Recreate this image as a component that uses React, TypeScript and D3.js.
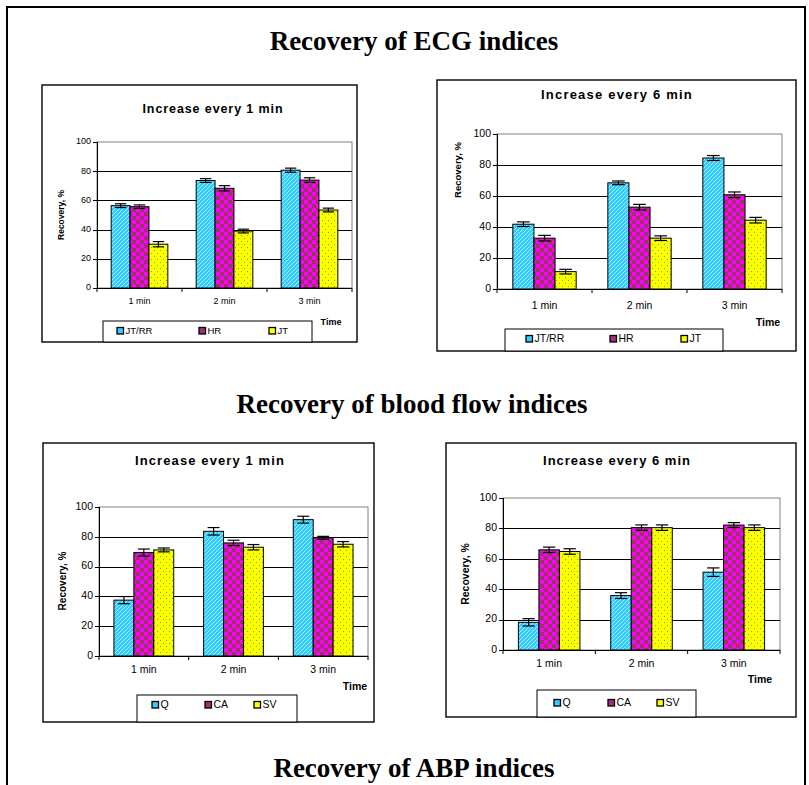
import React from 'react';
import * as d3 from 'd3';

const categories = ['1 min', '2 min', '3 min'];
const ecgSeriesNames = ['JT/RR', 'HR', 'JT'];
const flowSeriesNames = ['Q', 'CA', 'SV'];
const yTicks = [0, 20, 40, 60, 80, 100];

// ECG, increase every 1 min
const ecg1JTRR = [56.4, 73.6, 80.7];
const ecg1HR = [55.7, 68.3, 73.9];
const ecg1JT = [30.0, 39.0, 53.4];
const ecg1JTRRErr = [1.3, 1.3, 1.4];
const ecg1HRErr = [1.2, 1.8, 1.6];
const ecg1JTErr = [1.8, 1.3, 1.3];

// ECG, increase every 6 min
const ecg6JTRR = [41.8, 68.5, 84.5];
const ecg6HR = [32.8, 52.8, 60.8];
const ecg6JT = [11.2, 32.8, 44.4];
const ecg6JTRRErr = [1.5, 1.2, 1.6];
const ecg6HRErr = [1.8, 1.8, 1.8];
const ecg6JTErr = [1.5, 1.5, 1.8];

// Blood flow, increase every 1 min
const flow1Q = [37.5, 83.7, 91.5];
const flow1CA = [69.4, 75.9, 79.3];
const flow1SV = [71.2, 73.0, 75.0];
const flow1QErr = [2.4, 2.5, 2.3];
const flow1CAErr = [2.4, 1.8, 1.0];
const flow1SVErr = [1.3, 1.8, 1.8];

// Blood flow, increase every 6 min
const flow6Q = [18.2, 35.8, 51.2];
const flow6CA = [65.9, 80.5, 82.2];
const flow6SV = [64.8, 80.5, 80.5];
const flow6QErr = [2.4, 1.9, 2.8];
const flow6CAErr = [1.8, 1.8, 1.6];
const flow6SVErr = [1.8, 1.8, 1.8];

const SANS = '"Liberation Sans", Arial, Helvetica, sans-serif';
const SERIF = '"Liberation Serif", "Times New Roman", Times, serif';

const fills = ['url(#cyanHatch)', 'url(#magentaDots)', 'url(#yellowDots)'];
const legendFills = ['#33CCFF', '#A3307E', '#FFFF00'];

type Box = { x0: number; y0: number; x1: number; y1: number };
type Series = { name: string; values: number[]; errors: number[] };

interface ChartProps {
  frame: Box;
  plot: Box;
  title: string;
  titleX: number;
  titleY: number;
  titleSize: number;
  titleSpacing: number;
  tickSize: number;
  catY: number;
  ylabel: string;
  ylabelX: number;
  ylabelY: number;
  ylabelSize: number;
  timeX: number;
  timeY: number;
  series: Series[];
  legend: Box;
  legendMarkers: number[];
  legendTextY: number;
  legendSize: number;
}

function BarChart(p: ChartProps) {
  const x0 = d3
    .scaleBand<string>()
    .domain(categories)
    .range([p.plot.x0, p.plot.x1])
    .paddingInner(0)
    .paddingOuter(0);
  const bw = x0.bandwidth();
  const barW = bw / 4.5;
  const x1 = d3
    .scaleBand<string>()
    .domain(p.series.map((s) => s.name))
    .range([(bw * 0.75) / 4.5, (bw * 0.75) / 4.5 + barW * 3])
    .padding(0);
  const y = d3.scaleLinear().domain([0, 100]).range([p.plot.y1, p.plot.y0]);

  return (
    <g>
      <rect
        x={p.frame.x0}
        y={p.frame.y0}
        width={p.frame.x1 - p.frame.x0}
        height={p.frame.y1 - p.frame.y0}
        fill="#fff"
        stroke="#000"
        strokeWidth={1.4}
      />
      <text
        x={p.titleX}
        y={p.titleY}
        textAnchor="middle"
        fontFamily={SANS}
        fontWeight="bold"
        fontSize={p.titleSize}
        letterSpacing={p.titleSpacing}
        dominantBaseline="middle"
      >
        {p.title}
      </text>
      <rect
        x={p.plot.x0}
        y={p.plot.y0}
        width={p.plot.x1 - p.plot.x0}
        height={p.plot.y1 - p.plot.y0}
        fill="none"
        stroke="#808080"
        strokeWidth={1}
      />
      {yTicks
        .filter((t) => t > 0 && t < 100)
        .map((t) => (
          <line
            key={'g' + t}
            x1={p.plot.x0}
            x2={p.plot.x1}
            y1={Math.round(y(t)) + 0.5}
            y2={Math.round(y(t)) + 0.5}
            stroke="#000"
            strokeWidth={1}
          />
        ))}
      {categories.map((c, ci) =>
        p.series.map((s, si) => {
          const bx = (x0(c) as number) + (x1(s.name) as number);
          const v = s.values[ci];
          return (
            <rect
              key={c + s.name}
              x={bx}
              y={y(v)}
              width={barW}
              height={y(0) - y(v)}
              fill={fills[si]}
              stroke="#000"
              strokeWidth={1}
            />
          );
        })
      )}
      {categories.map((c, ci) =>
        p.series.map((s) => {
          const cx = (x0(c) as number) + (x1(s.name) as number) + barW / 2;
          const v = s.values[ci];
          const e = s.errors[ci];
          const cap = barW * 0.3;
          return (
            <g key={'e' + c + s.name} stroke="#000" strokeWidth={1.2}>
              <line x1={cx} x2={cx} y1={y(v - e)} y2={y(v + e)} />
              <line x1={cx - cap} x2={cx + cap} y1={y(v - e)} y2={y(v - e)} />
              <line x1={cx - cap} x2={cx + cap} y1={y(v + e)} y2={y(v + e)} />
            </g>
          );
        })
      )}
      <line x1={p.plot.x0 + 0.5} x2={p.plot.x0 + 0.5} y1={p.plot.y0} y2={p.plot.y1} stroke="#000" />
      {yTicks.map((t) => (
        <g key={'yt' + t}>
          <line
            x1={p.plot.x0 - 4}
            x2={p.plot.x0}
            y1={Math.round(y(t)) + 0.5}
            y2={Math.round(y(t)) + 0.5}
            stroke="#000"
          />
          <text
            x={p.plot.x0 - 6}
            y={y(t)}
            textAnchor="end"
            dominantBaseline="middle"
            fontFamily={SANS}
            fontSize={p.tickSize}
          >
            {t}
          </text>
        </g>
      ))}
      <line x1={p.plot.x0} x2={p.plot.x1} y1={p.plot.y1 + 0.5} y2={p.plot.y1 + 0.5} stroke="#000" />
      {[...categories.map((c) => x0(c) as number), p.plot.x1].map((bx, i) => (
        <line key={'xt' + i} x1={bx} x2={bx} y1={p.plot.y1} y2={p.plot.y1 + 4} stroke="#000" />
      ))}
      {categories.map((c) => (
        <text
          key={'xl' + c}
          x={(x0(c) as number) + bw / 2}
          y={p.catY}
          textAnchor="middle"
          dominantBaseline="middle"
          fontFamily={SANS}
          fontSize={p.tickSize}
        >
          {c}
        </text>
      ))}
      <text
        x={p.timeX}
        y={p.timeY}
        textAnchor="middle"
        dominantBaseline="middle"
        fontFamily={SANS}
        fontWeight="bold"
        fontSize={p.tickSize}
      >
        Time
      </text>
      <text
        transform={`translate(${p.ylabelX},${p.ylabelY}) rotate(-90)`}
        textAnchor="middle"
        dominantBaseline="middle"
        fontFamily={SANS}
        fontWeight="bold"
        fontSize={p.ylabelSize}
      >
        {p.ylabel}
      </text>
      <rect
        x={p.legend.x0}
        y={p.legend.y0}
        width={p.legend.x1 - p.legend.x0}
        height={p.legend.y1 - p.legend.y0}
        fill="#fff"
        stroke="#000"
        strokeWidth={1}
      />
      {p.series.map((s, si) => (
        <g key={'lg' + s.name}>
          <rect
            x={p.legendMarkers[si] - 3}
            y={p.legendTextY - 3.5}
            width={6.5}
            height={6.5}
            fill={legendFills[si]}
            stroke="#000"
            strokeWidth={1.3}
          />
          <text
            x={p.legendMarkers[si] + 5.5}
            y={p.legendTextY}
            dominantBaseline="middle"
            fontFamily={SANS}
            fontSize={p.legendSize}
          >
            {s.name}
          </text>
        </g>
      ))}
    </g>
  );
}

function makeSeries(names: string[], vals: number[][], errs: number[][]): Series[] {
  return names.map((n, i) => ({ name: n, values: vals[i], errors: errs[i] }));
}

export default function App() {
  const ecg1 = makeSeries(ecgSeriesNames, [ecg1JTRR, ecg1HR, ecg1JT], [ecg1JTRRErr, ecg1HRErr, ecg1JTErr]);
  const ecg6 = makeSeries(ecgSeriesNames, [ecg6JTRR, ecg6HR, ecg6JT], [ecg6JTRRErr, ecg6HRErr, ecg6JTErr]);
  const flow1 = makeSeries(flowSeriesNames, [flow1Q, flow1CA, flow1SV], [flow1QErr, flow1CAErr, flow1SVErr]);
  const flow6 = makeSeries(flowSeriesNames, [flow6Q, flow6CA, flow6SV], [flow6QErr, flow6CAErr, flow6SVErr]);

  return (
    <svg
      width={809}
      height={785}
      viewBox="0 0 809 785"
      style={{ position: 'absolute', left: 0, top: 0, background: '#fff' }}
    >
      <defs>
        <pattern id="cyanHatch" patternUnits="userSpaceOnUse" width={4} height={4}>
          <rect width={4} height={4} fill="#33CCFF" />
          <path d="M-1,1 l2,-2 M0,4 l4,-4 M3,5 l2,-2" stroke="#A6EEFF" strokeWidth={1} />
        </pattern>
        <pattern id="magentaDots" patternUnits="userSpaceOnUse" width={8} height={8}>
          <rect width={8} height={8} fill="#993366" />
          <circle cx={2} cy={2} r={2.3} fill="#FF00FF" />
          <circle cx={6} cy={6} r={2.3} fill="#FF00FF" />
        </pattern>
        <pattern id="yellowDots" patternUnits="userSpaceOnUse" width={6} height={6}>
          <rect width={6} height={6} fill="#FFFF00" />
          <rect x={1} y={1} width={1} height={1} fill="#33CC33" />
          <rect x={4} y={4} width={1} height={1} fill="#33CC33" />
        </pattern>
      </defs>
      <rect x={0} y={0} width={809} height={785} fill="#fff" />
      <path d="M7,785 L7,7 L805,7 L805,785" fill="none" stroke="#000" strokeWidth={2} />

      <text x={414} y={50} textAnchor="middle" fontFamily={SERIF} fontWeight="bold" fontSize={27}>
        Recovery of ECG indices
      </text>
      <text x={412} y={413} textAnchor="middle" fontFamily={SERIF} fontWeight="bold" fontSize={27}>
        Recovery of blood flow indices
      </text>
      <text x={414} y={777} textAnchor="middle" fontFamily={SERIF} fontWeight="bold" fontSize={27}>
        Recovery of ABP indices
      </text>

      <BarChart
        frame={{ x0: 42, y0: 85, x1: 357, y1: 342 }}
        plot={{ x0: 97, y0: 142, x1: 352, y1: 288 }}
        title="Increase every 1 min"
        titleX={213}
        titleY={110}
        titleSize={12.5}
        titleSpacing={0.9}
        tickSize={9}
        catY={302}
        ylabel="Recovery, %"
        ylabelX={62}
        ylabelY={215}
        ylabelSize={8.5}
        timeX={331}
        timeY={323}
        series={ecg1}
        legend={{ x0: 103, y0: 321, x1: 312, y1: 342 }}
        legendMarkers={[120, 202, 272]}
        legendTextY={331}
        legendSize={9.5}
      />
      <BarChart
        frame={{ x0: 437, y0: 80, x1: 796, y1: 351 }}
        plot={{ x0: 497, y0: 134, x1: 782, y1: 289 }}
        title="Increase every 6 min"
        titleX={617}
        titleY={96}
        titleSize={13}
        titleSpacing={1.2}
        tickSize={10.5}
        catY={306}
        ylabel="Recovery, %"
        ylabelX={458}
        ylabelY={170}
        ylabelSize={9.5}
        timeX={768}
        timeY={323}
        series={ecg6}
        legend={{ x0: 505, y0: 329, x1: 723, y1: 351 }}
        legendMarkers={[529, 613, 684]}
        legendTextY={339}
        legendSize={10.5}
      />
      <BarChart
        frame={{ x0: 43, y0: 443, x1: 374, y1: 722 }}
        plot={{ x0: 99, y0: 507, x1: 368, y1: 656 }}
        title="Increase every 1 min"
        titleX={210}
        titleY={462}
        titleSize={13}
        titleSpacing={1.1}
        tickSize={10.5}
        catY={670}
        ylabel="Recovery,  %"
        ylabelX={63}
        ylabelY={581}
        ylabelSize={10}
        timeX={355}
        timeY={687}
        series={flow1}
        legend={{ x0: 137, y0: 695, x1: 297, y1: 722 }}
        legendMarkers={[155, 208, 257]}
        legendTextY={705}
        legendSize={10.5}
      />
      <BarChart
        frame={{ x0: 446, y0: 443, x1: 796, y1: 717 }}
        plot={{ x0: 503, y0: 498, x1: 780, y1: 650 }}
        title="Increase every 6 min"
        titleX={617}
        titleY={462}
        titleSize={13}
        titleSpacing={1.0}
        tickSize={10.5}
        catY={664}
        ylabel="Recovery,  %"
        ylabelX={466}
        ylabelY={574}
        ylabelSize={10.5}
        timeX={760}
        timeY={680}
        series={flow6}
        legend={{ x0: 537, y0: 690, x1: 696, y1: 717 }}
        legendMarkers={[557, 611, 660]}
        legendTextY={703}
        legendSize={10.5}
      />
    </svg>
  );
}
